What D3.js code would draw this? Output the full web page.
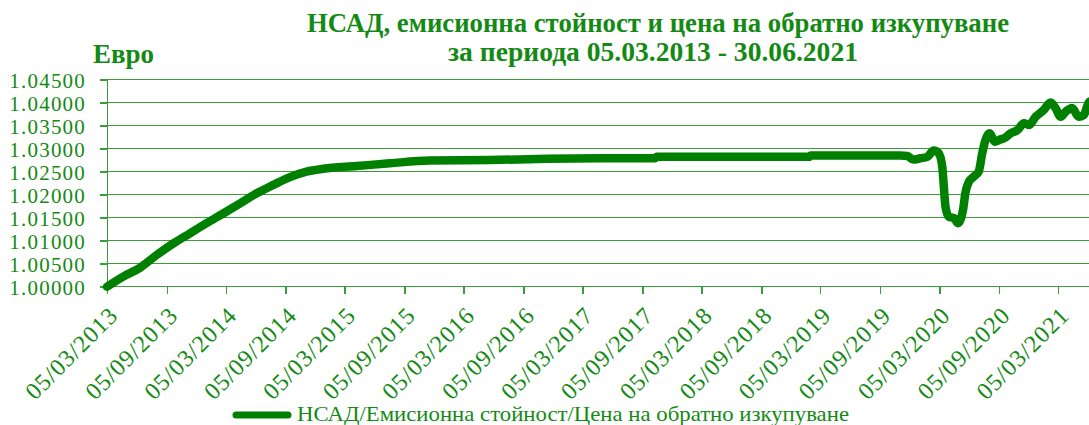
<!DOCTYPE html>
<html lang="bg">
<head>
<meta charset="UTF-8">
<title>НСАД, емисионна стойност и цена на обратно изкупуване</title>
<script src="https://d3js.org/d3.v7.min.js"></script>
<style>
  body { margin: 0; background: #fff; }
  svg { display: block; font-family: "Liberation Serif", "Times New Roman", serif; }
  .grid line, .axis line, .axis path { stroke: #3c9c3c; stroke-width: 1.5px; shape-rendering: crispEdges; }
  .lbl { fill: #138a13; }
  .title { fill: #138a13; font-weight: bold; font-size: 27px; }
</style>
</head>
<body>
<svg width="1089" height="425"></svg>
<script>
// NAV series (date, value)
const dates = [
  "2013-03-05","2013-04-24","2013-06-14","2013-08-05","2013-09-25","2013-11-15",
  "2014-01-05","2014-02-25","2014-04-18","2014-06-08","2014-07-29","2014-09-18",
  "2014-11-08","2014-12-29","2015-04-11","2015-07-22","2015-11-21","2016-05-24",
  "2016-11-15","2017-04-26","2017-10-14","2017-10-18","2019-01-30","2019-02-03",
  "2019-11-07","2019-11-27","2019-12-16","2020-01-07","2020-01-28","2020-02-17",
  "2020-03-03","2020-03-14","2020-03-19","2020-03-24","2020-04-03","2020-04-19",
  "2020-05-01","2020-05-09","2020-05-17","2020-05-24","2020-06-04","2020-06-19",
  "2020-07-04","2020-07-15","2020-07-25","2020-08-07","2020-08-22","2020-09-09",
  "2020-09-19","2020-10-10","2020-10-31","2020-11-20","2020-12-05","2020-12-26",
  "2021-01-20","2021-02-10","2021-02-25","2021-03-13","2021-03-28","2021-04-17",
  "2021-05-07","2021-05-23","2021-06-09","2021-06-30"
];
const values = [
  1.0000,1.0022,1.0041,1.0069,1.0094,1.0116,
  1.0138,1.0159,1.0181,1.0203,1.0221,1.0238,
  1.0250,1.0256,1.0262,1.0268,1.0274,1.0275,
  1.0278,1.0279,1.0279,1.0282,1.0282,1.0285,
  1.0285,1.0284,1.0276,1.0279,1.0282,1.0296,
  1.0290,1.0261,1.0217,1.0174,1.0152,1.0149,
  1.0138,1.0145,1.0167,1.0203,1.0228,1.0239,
  1.0250,1.0290,1.0319,1.0333,1.0315,1.0320,
  1.0322,1.0333,1.0340,1.0355,1.0351,1.0369,
  1.0384,1.0400,1.0388,1.0369,1.0380,1.0388,
  1.0369,1.0373,1.0402,1.0405
];
const xTicks = [
  "2013-03-05","2013-09-05","2014-03-05","2014-09-05","2015-03-05","2015-09-05",
  "2016-03-05","2016-09-05","2017-03-05","2017-09-05","2018-03-05","2018-09-05",
  "2019-03-05","2019-09-05","2020-03-05","2020-09-05","2021-03-05"
];
const yTicks = [1.000, 1.005, 1.010, 1.015, 1.020, 1.025, 1.030, 1.035, 1.040, 1.045];
const titleLines = [
  "НСАД, емисионна стойност и цена на обратно изкупуване",
  "за периода 05.03.2013 - 30.06.2021"
];
const yLabel = "Евро";
const legendLabel = "НСАД/Емисионна стойност/Цена на обратно изкупуване";

const parse = d3.timeParse("%Y-%m-%d");
const fmt = d3.timeFormat("%d/%m/%Y");
const data = dates.map((d, i) => ({ date: parse(d), value: values[i] }));

const svg = d3.select("svg");
const x0 = 107, yTop = 79.5, yBot = 286.7;
const pxPerDay = 0.3255;
const start = parse("2013-03-05"), end = parse("2021-06-30");
const x = d3.scaleTime()
  .domain([start, end])
  .range([x0, x0 + (end - start) / 864e5 * pxPerDay]);
const y = d3.scaleLinear().domain([1.0, 1.045]).range([yBot, yTop]);
const xRight = x.range()[1];

// gridlines
svg.append("g").attr("class", "grid")
  .selectAll("line").data(yTicks.slice(1)).join("line")
  .attr("x1", x0).attr("x2", xRight)
  .attr("y1", d => y(d)).attr("y2", d => y(d));

// y axis
const yAxis = svg.append("g").attr("class", "axis")
  .attr("transform", `translate(${x0},0)`)
  .call(d3.axisLeft(y).tickValues(yTicks).tickSize(7).tickSizeOuter(0).tickFormat(d3.format(".5f")));
yAxis.selectAll("text")
  .attr("class", "lbl").attr("x", -21).attr("dy", "0.36em")
  .style("font-size", "21px").style("letter-spacing", "1.2px")
  .style("font-family", "Liberation Serif");

// x axis
const xAxis = svg.append("g").attr("class", "axis")
  .attr("transform", `translate(0,${yBot})`)
  .call(d3.axisBottom(x).tickValues(xTicks.map(parse)).tickSize(7).tickSizeOuter(0).tickFormat(fmt));
xAxis.select(".domain").attr("d", `M${x0},0H${xRight}`);
xAxis.selectAll("text")
  .attr("class", "lbl")
  .attr("y", 0).attr("dy", 0)
  .attr("text-anchor", "end")
  .attr("transform", "translate(12,30) rotate(-45)")
  .style("font-size", "24px").style("letter-spacing", "1px")
  .style("font-family", "Liberation Serif");

// series line
svg.append("path")
  .datum(data)
  .attr("fill", "none")
  .attr("stroke", "#008000")
  .attr("stroke-width", 8.5)
  .attr("stroke-linejoin", "round")
  .attr("stroke-linecap", "round")
  .attr("d", d3.line().x(d => x(d.date)).y(d => y(d.value)).curve(d3.curveMonotoneX));

// title
svg.append("text").attr("class", "title")
  .attr("x", 307).attr("y", 32)
  .attr("textLength", 702).attr("lengthAdjust", "spacingAndGlyphs")
  .text(titleLines[0]);
svg.append("text").attr("class", "title")
  .attr("x", 448).attr("y", 61)
  .attr("textLength", 410).attr("lengthAdjust", "spacingAndGlyphs")
  .text(titleLines[1]);

svg.append("text").attr("class", "title")
  .attr("x", 93).attr("y", 63)
  .text(yLabel);

// legend
svg.append("line")
  .attr("x1", 236).attr("x2", 288).attr("y1", 415).attr("y2", 415)
  .attr("stroke", "#008000").attr("stroke-width", 7).attr("stroke-linecap", "round");
svg.append("text").attr("class", "lbl")
  .attr("x", 297).attr("y", 421)
  .style("font-size", "21px")
  .attr("textLength", 552).attr("lengthAdjust", "spacingAndGlyphs")
  .text(legendLabel);
</script>
</body>
</html>
